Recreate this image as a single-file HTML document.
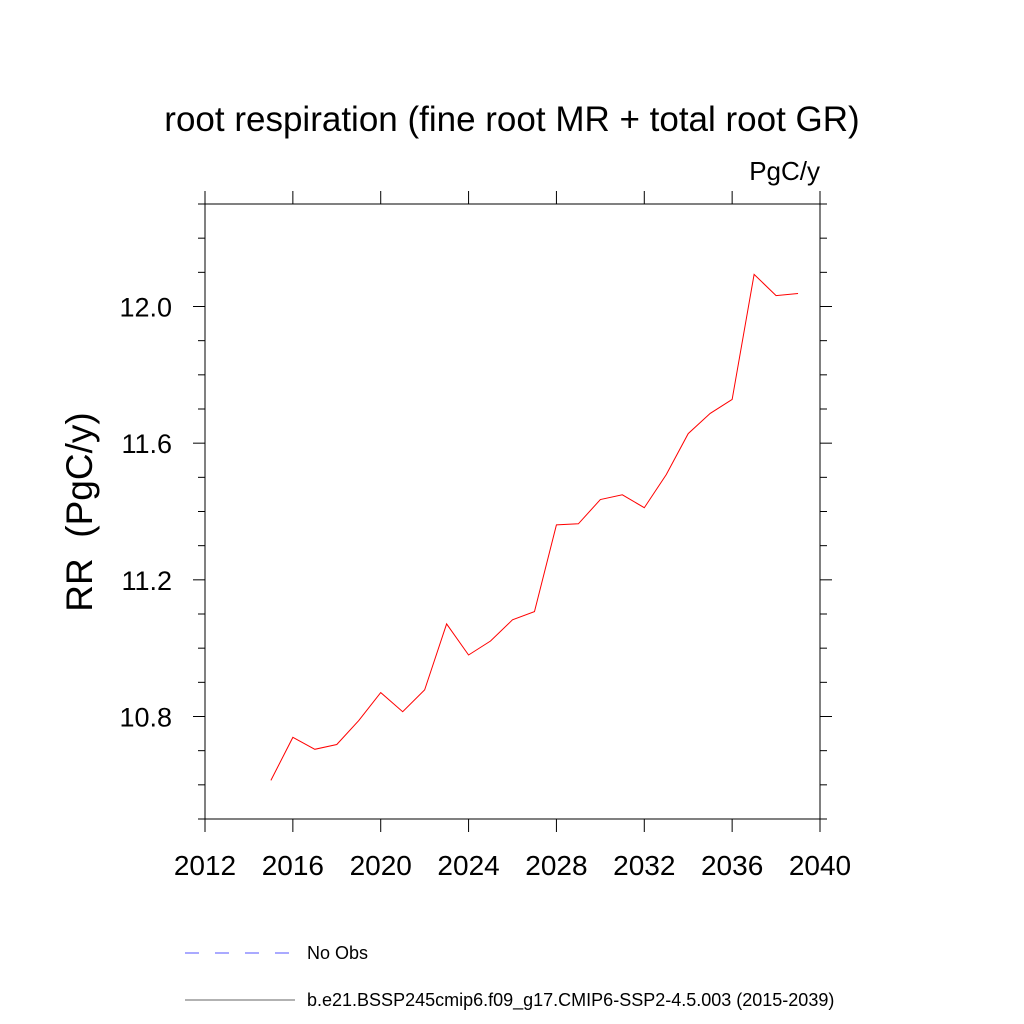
<!DOCTYPE html>
<html><head><meta charset="utf-8"><style>body{margin:0;background:#fff}svg{display:block}text{font-family:"Liberation Sans",sans-serif}</style></head>
<body>
<svg id="chart" width="1024" height="1024" viewBox="0 0 1024 1024">
<text x="512" y="131" font-size="35" text-anchor="middle">root respiration (fine root MR + total root GR)</text>
<text x="820" y="180" font-size="26" text-anchor="end">PgC/y</text>
<text transform="translate(92,512) rotate(-90)" font-size="37" text-anchor="middle" style="white-space:pre">RR  (PgC/y)</text>
<g id="axes"></g>
<g id="marks"></g>
<line x1="185" y1="953" x2="295" y2="953" stroke="#5555ff" stroke-width="1" stroke-dasharray="14,16"/>
<text x="307" y="959" font-size="18">No Obs</text>
<line x1="185" y1="1000" x2="295" y2="1000" stroke="#666" stroke-width="1"/>
<text x="307" y="1006" font-size="18">b.e21.BSSP245cmip6.f09_g17.CMIP6-SSP2-4.5.003 (2015-2039)</text>
</svg>
<script>
const years=[2015,2016,2017,2018,2019,2020,2021,2022,2023,2024,2025,2026,2027,2028,2029,2030,2031,2032,2033,2034,2035,2036,2037,2038,2039];
const values=[10.613,10.739,10.704,10.718,10.788,10.870,10.814,10.878,11.071,10.98,11.021,11.083,11.107,11.361,11.364,11.435,11.449,11.411,11.508,11.628,11.687,11.728,12.094,12.032,12.038];
const xTicks=[2012,2016,2020,2024,2028,2032,2036,2040];
const yTicks=[10.8,11.2,11.6,12.0];
const yTickLabels=["10.8","11.2","11.6","12.0"];
const L=205,R=820,T=204,B=819,X0=2012,X1=2040,Y0=10.5,Y1=12.3;
const sx=v=>L+(v-X0)/(X1-X0)*(R-L);
const sy=v=>B-(v-Y0)/(Y1-Y0)*(B-T);
const NS="http://www.w3.org/2000/svg";
const ax=document.getElementById('axes'),mk=document.getElementById('marks');
function el(t,a,p){const e=document.createElementNS(NS,t);for(const k in a)e.setAttribute(k,a[k]);p.appendChild(e);return e;}
const frame=el('rect',{x:L,y:T,width:R-L,height:B-T,fill:'none',stroke:'#000','stroke-width':1},ax);


xTicks.forEach(v=>{const x=sx(v);
const a=el('line',{x1:x,y1:B,x2:x,y2:B+13,stroke:'#000'},ax);


const b=el('line',{x1:x,y1:T,x2:x,y2:T-13,stroke:'#000'},ax);


const t=el('text',{x:x,y:875,'font-size':28,'text-anchor':'middle'},ax);t.textContent=v;

});
for(let i=0;i<=18;i++){const v=Y0+i*0.1;const y=sy(v);const major=yTicks.some(m=>Math.abs(m-v)<1e-6);const len=major?12:7;
const a=el('line',{x1:L-len,y1:y,x2:L,y2:y,stroke:'#000'},ax);


const b=el('line',{x1:R,y1:y,x2:R+len,y2:y,stroke:'#000'},ax);

}
yTicks.forEach((v,i)=>{const t=el('text',{x:172,y:sy(v)+10,'font-size':27,'text-anchor':'end'},ax);t.textContent=yTickLabels[i];

});
const line=el('polyline',{points:years.map((y,i)=>sx(y)+','+sy(values[i])).join(' '),fill:'none',stroke:'#ff0000','stroke-width':1},mk);


</script>
</body></html>
